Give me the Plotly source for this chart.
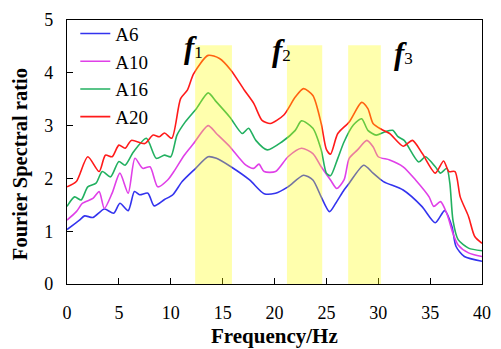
import plotly.graph_objects as go

# ---- data ----
a6_x = [0, 1.2, 1.7, 2.5, 3.6, 4.5, 5.1, 5.9, 6.5, 7.0, 7.8, 8.4, 9.4, 10.2, 11.1, 12.4, 13.6, 14.4, 15.8,
        17.6, 19.0, 20.1, 21.3, 22.8, 23.7, 24.5, 25.3, 25.9, 26.7, 27.2, 28.6, 29.5, 30.5, 32.4, 34.2,
        35.5, 36.4, 37.1, 37.5, 38.3, 40]
a6_y = [1.03, 1.21, 1.29, 1.26, 1.42, 1.34, 1.53, 1.39, 1.75, 1.69, 1.72, 1.48, 1.60, 1.69, 1.94, 2.19,
        2.41, 2.38, 2.22, 1.97, 1.71, 1.72, 1.84, 2.06, 1.97, 1.65, 1.37, 1.53, 1.78, 1.91, 2.25, 2.10,
        1.94, 1.78, 1.47, 1.16, 1.39, 1.09, 0.71, 0.52, 0.43]

a10_x = [0, 0.9, 1.5, 2.5, 3.1, 3.6, 4.35, 5.1, 5.9, 6.55, 7.3, 8.0, 8.75, 9.7, 10.3, 11.3, 12.2, 13.6,
         14.4, 15.7, 16.5, 17.25, 18.0, 18.5, 19.0, 20.1, 21.3, 22.6, 23.7, 24.5, 25.4, 26.0, 26.7,
         27.2, 28.0, 28.9, 29.5, 30.0, 31.1, 32.4, 33.6, 34.9, 35.35, 36.0, 36.6, 37.2, 37.7, 38.7, 40]
a10_y = [1.21, 1.37, 1.53, 1.62, 1.75, 1.43, 1.72, 2.10, 1.72, 2.38, 2.19, 2.22, 1.84, 1.97, 2.13, 2.44,
         2.66, 3.00, 2.85, 2.60, 2.41, 2.25, 2.19, 2.27, 2.13, 2.13, 2.41, 2.57, 2.47, 2.22, 1.97, 1.81,
         1.97, 2.38, 2.54, 2.72, 2.60, 2.41, 2.35, 2.22, 1.97, 1.65, 1.47, 1.56, 1.34, 0.96, 0.74, 0.59, 0.52]

a16_x = [0, 0.73, 1.36, 2.0, 2.8, 3.4, 4.2, 5.0, 5.6, 6.4, 7.65, 8.6, 9.4, 10.0, 10.6, 11.4, 12.5, 13.6,
         14.4, 15.7, 16.9, 17.5, 18.2, 19.3, 20.7, 22.0, 22.6, 23.7, 24.5, 25.0, 25.4, 26.1, 26.7, 27.6,
         28.4, 29.0, 29.8, 30.6, 31.4, 31.9, 32.5, 33.9, 34.55, 35.5, 36.0, 36.6, 36.9, 37.2, 37.7, 38.7, 40]
a16_y = [1.47, 1.65, 1.59, 1.84, 1.91, 2.13, 2.03, 2.32, 2.25, 2.50, 2.76, 2.38, 2.44, 2.41, 2.82, 3.07,
         3.33, 3.62, 3.45, 3.16, 2.85, 2.95, 2.72, 2.54, 2.69, 2.91, 3.09, 2.95, 2.54, 2.10, 2.05, 2.38,
         2.69, 3.01, 3.13, 2.91, 2.82, 2.88, 2.91, 2.79, 2.72, 2.31, 2.41, 2.22, 2.10, 2.19, 1.91, 1.21,
         0.84, 0.68, 0.63]

a20_x = [0, 0.9, 2.0, 3.1, 3.7, 4.35, 5.0, 5.6, 6.2, 7.5, 8.3, 8.9, 9.4, 10.1, 10.95, 11.6, 12.2, 13.6,
         14.7, 15.8, 17.1, 18.0, 18.8, 19.6, 20.9, 22.0, 22.8, 23.7, 24.5, 25.0, 25.4, 26.1, 27.2, 28.4,
         29.0, 29.5, 30.3, 31.1, 32.4, 33.3, 34.25, 35.5, 36.3, 36.8, 37.4, 37.9, 38.7, 39.3, 40]
a20_y = [1.84, 1.94, 2.41, 2.13, 2.44, 2.41, 2.63, 2.57, 2.72, 2.66, 2.82, 2.79, 2.86, 2.76, 3.51, 3.67,
         3.98, 4.33, 4.27, 4.05, 3.67, 3.42, 3.10, 3.04, 3.20, 3.54, 3.70, 3.57, 3.04, 2.55, 2.46, 2.85,
         3.07, 3.44, 3.32, 3.04, 2.93, 2.85, 2.61, 2.72, 2.47, 2.10, 2.33, 2.13, 2.13, 1.65, 1.28, 0.90, 0.77]

series_names = ["A6", "A10", "A16", "A20"]
series_colors = ["#3333ee", "#e040e8", "#22b060", "#ff1a1a"]

bands = [(12.35, 15.9), (21.2, 24.6), (27.1, 30.25)]
band_top = 4.52
band_labels = ["1", "2", "3"]
band_label_pos = [(12.2, 4.47), (20.7, 4.42), (32.4, 4.36)]

x_ticks = [0, 5, 10, 15, 20, 25, 30, 35, 40]
y_ticks = [0, 1, 2, 3, 4, 5]
x_title = "Frequency/Hz"
y_title = "Fourier Spectral ratio"

FONT = "Liberation Serif"

fig = go.Figure()
for name, xs, ys, col in zip(series_names, [a6_x, a10_x, a16_x, a20_x], [a6_y, a10_y, a16_y, a20_y],
                             series_colors):
    fig.add_trace(go.Scatter(x=xs, y=ys, name=name, mode="lines",
                             line=dict(color=col, width=1.6, shape="spline", smoothing=0.7)))

for (x0, x1) in bands:
    fig.add_shape(type="rect", xref="x", yref="y", x0=x0, x1=x1, y0=0, y1=band_top,
                  fillcolor="rgba(255,255,0,0.32)", line=dict(width=0), layer="above")

for lab, (ax, ay) in zip(band_labels, band_label_pos):
    fig.add_annotation(x=ax, y=ay, xref="x", yref="y", showarrow=False,
                       text="<b><i>f</i></b><span style='font-size:17px'>" + lab + "</span>",
                       font=dict(family=FONT, size=31, color="black"))

# axis titles as annotations for exact placement
fig.add_annotation(x=0.5, xref="paper", y=0, yref="paper", yshift=-52, showarrow=False,
                   text="<b>" + x_title + "</b>", font=dict(family=FONT, size=21, color="black"),
                   xanchor="center", yanchor="middle")
fig.add_annotation(x=0, xref="paper", xshift=-47, xanchor="center", y=2.27, yref="y",
                   yanchor="middle", showarrow=False, textangle=-90,
                   text="<b>" + y_title + "</b>",
                   font=dict(family=FONT, size=20.5, color="black"))

fig.update_layout(
    width=501, height=349,
    margin=dict(l=67, r=10, t=19, b=65),
    paper_bgcolor="white", plot_bgcolor="white",
    font=dict(family=FONT, size=18, color="black"),
    showlegend=True,
    legend=dict(x=0.02, y=1.02, xanchor="left", yanchor="top", bgcolor="rgba(0,0,0,0)",
                font=dict(family=FONT, size=19, color="black"), tracegroupgap=0, itemwidth=30),
)
fig.update_xaxes(range=[0, 40], tickvals=x_ticks, ticks="inside", ticklen=6, tickcolor="black",
                 showline=True, linecolor="black", linewidth=1.3, mirror=True, showgrid=False,
                 zeroline=False, tickfont=dict(family=FONT, size=18, color="black"),
                 ticklabelstandoff=12)
fig.update_yaxes(range=[0, 5], tickvals=y_ticks, ticks="inside", ticklen=6, tickcolor="black",
                 showline=True, linecolor="black", linewidth=1.3, mirror=True, showgrid=False,
                 zeroline=False, tickfont=dict(family=FONT, size=18, color="black"),
                 ticklabelstandoff=9)

fig.write_html("out.html")
